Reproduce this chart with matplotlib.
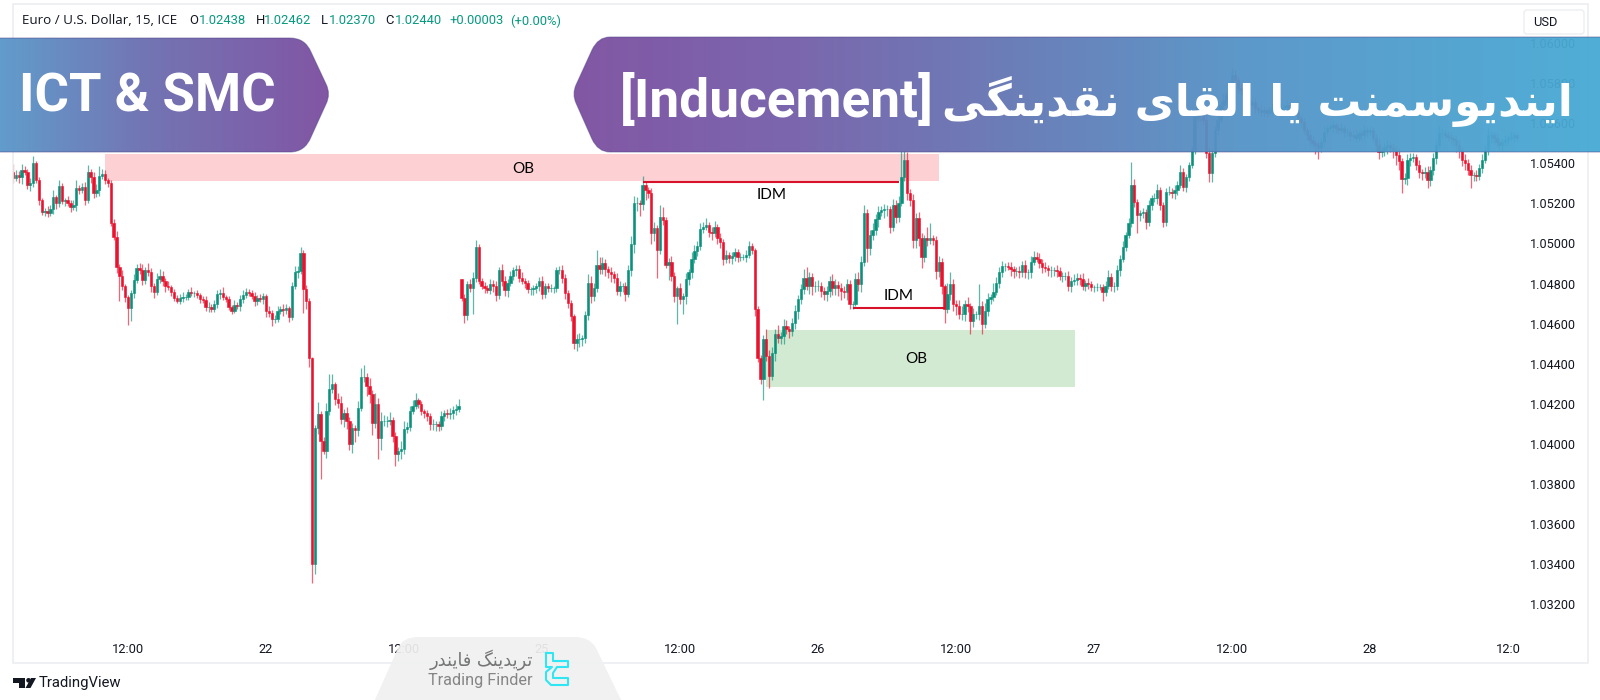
import numpy as np
import matplotlib
matplotlib.use('Agg')
import matplotlib.pyplot as plt
from matplotlib.colors import LinearSegmentedColormap
from matplotlib.patches import PathPatch, Polygon, Rectangle, FancyBboxPatch, Circle
from matplotlib.path import Path

# --- price data: points above 1.0 (5400 = 1.05400), 15 min candles ---
closes_week1 = [
    5325, 5340, 5330, 5365, 5355, 5290, 5300, 5400, 5315, 5215, 5155, 5160, 5150, 5170, 5230, 5200, 5285, 5210, 5215, 5200,
    5180, 5190, 5275, 5265, 5280, 5215, 5355, 5330, 5250, 5265, 5335, 5345, 5315, 5300, 5100, 5030, 4880, 4840, 4790, 4735,
    4680, 4755, 4820, 4875, 4865, 4820, 4865, 4855, 4790, 4760, 4825, 4840, 4815, 4790, 4785, 4760, 4730, 4715, 4730, 4735,
    4735, 4760, 4755, 4755, 4745, 4725, 4720, 4685, 4685, 4675, 4700, 4750, 4755, 4735, 4725, 4685, 4665, 4695, 4690, 4725,
    4745, 4760, 4755, 4740, 4715, 4730, 4725, 4740, 4665, 4655, 4625, 4625, 4665, 4675, 4670, 4680, 4635, 4790, 4855, 4860,
    4950, 4775, 4715, 4430, 3400, 4080, 4150, 4015, 3965, 4165, 4275, 4300, 4225, 4205, 4125, 4155, 4115, 4000, 4080, 4070,
    4180, 4335, 4335, 4290, 4250, 4105, 4200, 4030, 4115, 4115, 4115, 4120, 4040, 3950, 3965, 3975, 4075, 4085, 4165, 4190,
    4220, 4200, 4165, 4155, 4140, 4100, 4100, 4100, 4090, 4140, 4155, 4150, 4155, 4170, 4175, 4190,
]
closes_week2 = [
    4730, 4645, 4800, 4780, 4830, 4980, 4815, 4790, 4780, 4770, 4800, 4790, 4745, 4865, 4815, 4770, 4805, 4840, 4865, 4870,
    4830, 4815, 4805, 4775, 4775, 4780, 4790, 4815, 4750, 4790, 4780, 4780, 4780, 4865, 4865, 4830, 4755, 4705, 4640, 4505,
    4525, 4525, 4530, 4645, 4805, 4740, 4780, 4890, 4870, 4900, 4870, 4855, 4845, 4830, 4765, 4790, 4790, 4750, 4865, 4995,
    5200, 5200, 5195, 5290, 5265, 5250, 5050, 5075, 4965, 5130, 5115, 4890, 4905, 4840, 4740, 4780, 4725, 4740, 4825, 4855,
    4920, 4960, 4985, 5070, 5080, 5090, 5055, 5050, 5080, 5025, 5005, 4920, 4940, 4925, 4935, 4955, 4930, 4930, 4930, 4940,
    4985, 4965, 4675, 4430, 4325, 4525, 4440, 4340, 4455, 4550, 4530, 4540, 4590, 4575, 4565, 4605, 4665, 4725, 4775, 4830,
    4790, 4835, 4790, 4790, 4790, 4765, 4750, 4765, 4815, 4780, 4795, 4780, 4765, 4760, 4800, 4700, 4700, 4825, 4800, 4905,
    5150, 4975, 5040, 5065, 5120, 5155, 5165, 5170, 5170, 5080, 5190, 5130, 5200, 5330, 5415, 5250, 5215, 5015, 5125, 5025,
    4930, 5025, 5015, 5025, 5015, 4860, 4905, 4790, 4675, 4750, 4800, 4700, 4690, 4650, 4650, 4700, 4690, 4615, 4650, 4650,
    4690, 4600, 4665, 4725, 4735, 4760, 4805, 4855, 4885, 4885, 4880, 4870, 4860, 4860, 4855, 4890, 4855, 4855, 4905, 4930,
    4920, 4900, 4880, 4875, 4865, 4865, 4865, 4860, 4840, 4840, 4840, 4790, 4815, 4820, 4830, 4825, 4790, 4805, 4800, 4785,
    4785, 4785, 4785, 4760, 4790, 4835, 4790, 4790, 4865, 4920, 4980, 5040, 5100, 5290, 5205, 5140, 5150, 5155, 5105, 5190,
    5225, 5225, 5265, 5190, 5105, 5255, 5255, 5250, 5265, 5290, 5355, 5280, 5330, 5390, 5465, 5630, 5690, 5640, 5615, 5450,
    5350, 5450, 5565, 5615, 5690, 5715, 5740, 5790, 5840, 5815, 5775, 5765, 5740, 5715, 5690, 5705, 5675, 5665, 5655, 5665,
    5650, 5665, 5675, 5665, 5655, 5675, 5680, 5690, 5665, 5675, 5655, 5625, 5605, 5565, 5540, 5515, 5500, 5490, 5475, 5505,
    5555, 5575, 5580, 5590, 5575, 5565, 5575, 5555, 5555, 5535, 5540, 5525, 5550, 5540, 5565, 5555, 5565, 5525, 5490, 5455,
    5465, 5480, 5490, 5475, 5465, 5440, 5410, 5320, 5325, 5415, 5425, 5430, 5390, 5355, 5350, 5355, 5315, 5365, 5425, 5490,
    5550, 5550, 5540, 5530, 5525, 5515, 5490, 5465, 5415, 5400, 5365, 5340, 5340, 5335, 5375, 5415, 5465, 5540, 5540, 5525,
    5505, 5490, 5505, 5515, 5525, 5530, 5540, 5525,
]
first_open = 5355
week2_open = 4825

upper_wick = [
    40, 25, 20, 30, 20, 15, 25, 35, 10, 15, 10, 15, 25, 20, 35, 10, 30, 15, 10, 20,
    15, 25, 40, 15, 20, 25, 35, 15, 25, 30, 50, 25, 20, 10, 15, 20, 30, 15, 25, 10,
    10, 15, 25, 20, 25, 30, 15, 35, 20, 15, 25, 30, 20, 15, 25, 10, 15, 15, 20, 25,
    15, 15, 25, 10, 15, 10, 15, 20, 25, 15, 20, 20, 20, 30, 10, 15, 10, 25, 15, 20,
    25, 20, 15, 15, 20, 15, 20, 15, 10, 25, 15, 20, 25, 15, 25, 20, 10, 20, 30, 25,
    30, 15, 20, 15, 5, 15, 60, 15, 20, 40, 75, 50, 10, 30, 35, 20, 30, 20, 25, 15,
    35, 45, 60, 20, 40, 20, 55, 30, 45, 30, 25, 40, 15, 20, 20, 40, 40, 25, 25, 30,
    35, 10, 15, 10, 15, 15, 25, 15, 15, 25, 15, 20, 25, 20, 25, 35,
    0, 20, 15, 25, 25, 35, 15, 15, 20, 15, 25, 20, 25, 15, 30, 25, 20, 20, 15, 20,
    20, 25, 15, 15, 10, 15, 15, 20, 25, 15, 15, 20, 10, 15, 20, 25, 15, 15, 15, 10,
    25, 30, 15, 20, 40, 35, 25, 75, 40, 30, 20, 15, 25, 15, 20, 25, 15, 20, 25, 40,
    35, 30, 15, 45, 20, 15, 25, 30, 15, 60, 50, 15, 20, 30, 15, 10, 25, 15, 25, 15,
    35, 30, 25, 30, 25, 35, 15, 25, 30, 15, 25, 15, 25, 15, 20, 20, 15, 20, 15, 25,
    25, 15, 10, 15, 15, 20, 50, 30, 30, 25, 45, 20, 35, 30, 15, 25, 30, 20, 25, 40,
    50, 20, 15, 25, 30, 20, 20, 25, 25, 30, 30, 20, 25, 25, 25, 20, 15, 25, 30, 30,
    40, 20, 25, 35, 25, 30, 20, 25, 20, 15, 30, 25, 35, 130, 50, 40, 20, 30, 25, 30,
    25, 15, 55, 75, 15, 20, 30, 20, 10, 55, 55, 25, 20, 30, 40, 20, 35, 15, 30, 15,
    110, 25, 40, 30, 15, 45, 30, 25, 25, 15, 20, 25, 15, 20, 25, 20, 25, 15, 30, 30,
    25, 30, 20, 25, 15, 20, 15, 25, 20, 15, 15, 20, 20, 25, 20, 15, 25, 15, 25, 15,
    10, 20, 15, 15, 25, 30, 15, 20, 25, 20, 30, 15, 25, 115, 30, 15, 15, 20, 15, 25,
    15, 25, 30, 15, 15, 20, 30, 20, 25, 20, 35, 20, 15, 15, 20, 25, 30, 20, 25, 50,
    25, 25, 20, 30, 20, 35, 15, 25, 35, 25, 15, 20, 20, 15, 25, 15, 20, 15, 25, 20,
    15, 20, 25, 15, 20, 25, 15, 25, 15, 20, 15, 25, 15, 20, 15, 30, 20, 15, 20, 25,
    30, 15, 20, 25, 15, 20, 25, 15, 20, 15, 25, 30, 15, 20, 25, 15, 20, 15, 20, 30,
    15, 20, 25, 15, 25, 20, 35, 15, 25, 30, 25, 20, 15, 25, 15, 25, 30, 20, 25, 30,
    40, 25, 15, 20, 25, 15, 20, 25, 15, 30, 20, 25, 15, 25, 20, 30, 25, 35, 20, 15,
    25, 15, 20, 25, 15, 30, 15, 10,
]
lower_wick = [
    25, 15, 30, 35, 15, 20, 30, 20, 15, 25, 15, 20, 20, 15, 25, 30, 20, 15, 25, 15,
    25, 15, 30, 20, 15, 25, 15, 30, 25, 20, 30, 15, 20, 20, 15, 15, 30, 125, 20, 25,
    85, 65, 25, 15, 20, 25, 20, 15, 30, 30, 15, 20, 25, 30, 15, 20, 15, 10, 15, 20,
    15, 15, 15, 20, 15, 20, 15, 20, 25, 15, 15, 20, 25, 15, 15, 15, 15, 10, 15, 25,
    20, 15, 15, 15, 25, 20, 15, 25, 30, 20, 35, 20, 15, 15, 30, 20, 25, 15, 15, 25,
    15, 120, 40, 45, 95, 50, 30, 190, 15, 35, 20, 20, 30, 25, 25, 40, 40, 30, 45, 60,
    30, 15, 25, 50, 45, 60, 25, 105, 60, 25, 30, 20, 30, 60, 35, 40, 25, 20, 20, 15,
    15, 20, 20, 25, 25, 30, 30, 35, 25, 20, 25, 20, 25, 30, 25, 15,
    15, 40, 25, 20, 130, 20, 15, 15, 25, 15, 20, 30, 30, 20, 25, 30, 35, 15, 20, 25,
    20, 15, 25, 20, 30, 30, 25, 25, 25, 20, 20, 20, 25, 20, 20, 25, 30, 25, 25, 30,
    40, 40, 35, 25, 25, 35, 25, 20, 25, 25, 30, 25, 35, 25, 20, 25, 30, 35, 15, 25,
    45, 40, 60, 30, 50, 25, 55, 40, 135, 20, 25, 15, 70, 25, 30, 140, 25, 75, 40, 30,
    25, 20, 25, 20, 20, 15, 25, 35, 20, 30, 30, 30, 20, 25, 30, 25, 25, 20, 15, 25,
    15, 20, 35, 20, 25, 105, 25, 60, 20, 40, 25, 30, 40, 25, 35, 25, 30, 40, 25, 25,
    20, 40, 45, 30, 25, 30, 30, 35, 30, 35, 35, 40, 45, 30, 40, 25, 25, 10, 35, 40,
    20, 70, 35, 25, 25, 40, 20, 40, 35, 30, 20, 30, 25, 15, 20, 35, 30, 40, 40, 40,
    55, 25, 30, 20, 25, 35, 25, 40, 70, 20, 30, 35, 45, 25, 30, 35, 30, 65, 30, 25,
    30, 50, 20, 25, 25, 20, 15, 25, 20, 25, 15, 30, 30, 20, 25, 20, 25, 30, 25, 15,
    15, 25, 30, 20, 25, 30, 25, 25, 20, 30, 20, 25, 30, 20, 25, 30, 20, 25, 25, 20,
    25, 20, 15, 45, 20, 15, 25, 30, 20, 25, 15, 20, 15, 20, 25, 90, 30, 25, 35, 20,
    25, 20, 30, 25, 25, 20, 15, 25, 30, 25, 15, 20, 25, 20, 15, 20, 25, 30, 20, 25,
    45, 45, 20, 25, 15, 20, 25, 15, 20, 15, 25, 20, 15, 25, 20, 15, 25, 20, 20, 25,
    20, 15, 25, 20, 15, 25, 20, 15, 25, 15, 20, 25, 30, 20, 25, 30, 20, 45, 55, 20,
    25, 20, 15, 30, 25, 20, 15, 25, 20, 25, 15, 20, 15, 25, 20, 25, 15, 20, 30, 35,
    25, 30, 35, 20, 40, 50, 45, 70, 25, 35, 30, 20, 25, 30, 35, 25, 40, 30, 25, 30,
    20, 25, 15, 20, 25, 30, 35, 40, 30, 35, 25, 65, 30, 25, 20, 25, 15, 25, 40, 30,
    20, 25, 30, 20, 25, 15, 25, 15,
]

price_ticks = [1.032, 1.034, 1.036, 1.038, 1.040, 1.042, 1.044, 1.046, 1.048, 1.050,
               1.052, 1.054, 1.056, 1.058, 1.060]
time_ticks = [40, 88, 136, 184, 232, 280, 328, 376, 424, 472, 520]
time_labels = ['12:00', '22', '12:00', '25', '12:00', '26', '12:00', '27', '12:00', '28', '12:0']

# zones and lines: candle index from/to, price points
ob_sell = (32, 322, 5312, 5446)
ob_buy = (262, 369.5, 4284, 4568)
idm_top = (219, 308, 5307)
idm_low = (292, 324, 4678)

TITLE_FA = 'ایندیوسمنت یا القای نقدینگی'
TITLE_EN = '[Inducement]'
TAG = 'ICT & SMC'
BRAND_FA = 'تریدینگ فایندر'
BRAND_EN = 'Trading Finder'

GREEN = '#0a917c'
RED = '#e8132f'
TEAL_TEXT = '#089981'
INK = '#131722'

# matplotlib has no arabic shaping, so letters are mapped to their joined forms
FORMS = {
    'ا': (0xFE8D, 0xFE8E, None, None), 'د': (0xFEA9, 0xFEAA, None, None),
    'ر': (0xFEAD, 0xFEAE, None, None), 'و': (0xFEED, 0xFEEE, None, None),
    'ی': (0xFBFC, 0xFBFD, 0xFBFE, 0xFBFF), 'ن': (0xFEE5, 0xFEE6, 0xFEE7, 0xFEE8),
    'س': (0xFEB1, 0xFEB2, 0xFEB3, 0xFEB4), 'م': (0xFEE1, 0xFEE2, 0xFEE3, 0xFEE4),
    'ت': (0xFE95, 0xFE96, 0xFE97, 0xFE98), 'ق': (0xFED5, 0xFED6, 0xFED7, 0xFED8),
    'ل': (0xFEDD, 0xFEDE, 0xFEDF, 0xFEE0), 'گ': (0xFB92, 0xFB93, 0xFB94, 0xFB95),
    'ف': (0xFED1, 0xFED2, 0xFED3, 0xFED4),
}


def shape_fa(text):
    out = []
    for i, ch in enumerate(text):
        if ch not in FORMS:
            out.append(ch)
            continue
        prev = text[i - 1] if i > 0 else ' '
        nxt = text[i + 1] if i + 1 < len(text) else ' '
        joins_prev = prev in FORMS and FORMS[prev][2] is not None
        joins_next = nxt in FORMS and FORMS[ch][2] is not None
        idx = {(False, False): 0, (True, False): 1, (False, True): 2, (True, True): 3}[(joins_prev, joins_next)]
        out.append(chr(FORMS[ch][idx]))
    return ''.join(out)[::-1]


plt.rcParams['font.family'] = ['Roboto', 'DejaVu Sans']

W, H = 1600, 700
fig = plt.figure(figsize=(16, 7), dpi=100, facecolor='white')

# chart area in pixels
PX_L, PX_R, PX_T, PX_B = 12.5, 1522.0, 4.0, 637.0
ax = fig.add_axes([PX_L / W, 1 - PX_B / H, (PX_R - PX_L) / W, (PX_B - PX_T) / H])
STEP = 2.875
ax.set_xlim((PX_L - 13) / STEP, (PX_R - 13) / STEP)
SCALE = 0.20036
ax.set_ylim(5400 - (PX_B - 163.3) / SCALE, 5400 - (PX_T - 163.3) / SCALE)
for s in ax.spines.values():
    s.set_visible(False)

# order blocks
for (x0, x1, lo, hi), col in ((ob_sell, '#fdd0d3'), (ob_buy, '#d2ead2')):
    ax.add_patch(Rectangle((x0, lo), x1 - x0, hi - lo, facecolor=col, edgecolor='none', zorder=1))

closes = np.array(closes_week1 + closes_week2, dtype=float)
opens = np.r_[first_open, closes[:-1]]
opens[len(closes_week1)] = week2_open
if not (len(closes) == len(upper_wick) == len(lower_wick)):
    raise ValueError(f'{len(closes)} {len(upper_wick)} {len(lower_wick)}')
idx = np.arange(len(closes))
tops = np.maximum(opens, closes)
bots = np.minimum(opens, closes)
colors = [GREEN if c >= o else RED for o, c in zip(opens, closes)]

ax.vlines(idx, bots - np.array(lower_wick), tops + np.array(upper_wick), colors=colors, linewidth=0.9, alpha=0.65, zorder=2)
ax.bar(idx, tops - bots, bottom=bots, width=0.8, color=colors, edgecolor=colors, linewidth=0.4, zorder=3)

# inducement lines
for x0, x1, lvl in (idm_top, idm_low):
    ax.plot([x0, x1], [lvl, lvl], color='#d8112a', linewidth=1.5, solid_capstyle='butt', zorder=4)

ax.text((ob_sell[0] + ob_sell[1]) / 2 + 0.5, 5373, 'OB', ha='center', va='center', fontsize=11, family=['Lato'], color='black', zorder=5)
ax.text((ob_buy[0] + ob_buy[1]) / 2 - 1.5, 4425, 'OB', ha='center', va='center', fontsize=11, family=['Lato'], color='black', zorder=5)
ax.text(264, 5243, 'IDM', ha='center', va='center', fontsize=11, family=['Lato'], color='black', zorder=5)
ax.text(308, 4740, 'IDM', ha='center', va='center', fontsize=11, family=['Lato'], color='black', zorder=5)

ax.yaxis.tick_right()
ax.set_yticks([(p - 1) * 100000 for p in price_ticks])
ax.set_yticklabels([f'{p:.5f}' for p in price_ticks])
ax.set_xticks(time_ticks)
ax.set_xticklabels(time_labels)
ax.tick_params(axis='y', length=0, pad=6, labelsize=9.1, labelcolor=INK)
ax.tick_params(axis='x', length=0, pad=4, labelsize=9.3, labelcolor=INK)

# overlay in pixel coordinates for frame, header, banners and logos
ov = fig.add_axes([0, 0, 1, 1], facecolor='none', zorder=10)
ov.set_xlim(0, W)
ov.set_ylim(H, 0)
ov.axis('off')

ov.add_patch(Rectangle((12.5, 4), 1575.5, 659, fill=False, edgecolor='#eceef1', linewidth=1.2))
ov.add_patch(FancyBboxPatch((1524, 10), 60, 24, boxstyle='round,pad=0,rounding_size=3',
                            facecolor='white', edgecolor='#eceef1', linewidth=1))
ov.text(1533, 22.5, 'USD', ha='left', va='center', fontsize=9.3, color=INK)

# header line
ov.text(22, 21, 'Euro / U.S. Dollar, 15, ICE', ha='left', va='center', fontsize=9.6, family=['Open Sans'], color=INK)
for x, letter in ((189, 'O'), (256, 'H'), (321, 'L'), (385, 'C')):
    ov.text(x, 21, letter, ha='left', va='center', fontsize=9.4, color=INK)
for x, txt in ((199, '1.02438'), (264, '1.02462'), (329, '1.02370'), (395, '1.02440'),
               (449, '+0.00003'), (510, '(+0.00%)')):
    ov.text(x, 21, txt, ha='left', va='center', fontsize=9.4, color=TEAL_TEXT)


def banner(verts, codes, x0, x1, stops):
    path = Path(verts, codes)
    cmap = LinearSegmentedColormap.from_list('b', stops)
    grad = np.linspace(0, 1, 512).reshape(1, -1)
    im = ov.imshow(grad, extent=(x0, x1, 153, 36), cmap=cmap, aspect='auto', alpha=0.96, zorder=5)
    patch = PathPatch(path, facecolor='none', edgecolor='none', transform=ov.transData)
    ov.add_patch(patch)
    im.set_clip_path(patch)
    ov.add_patch(PathPatch(path, facecolor='none', edgecolor='#4b3f86', linewidth=0.8, alpha=0.45, zorder=6))


M, L, Q, C = Path.MOVETO, Path.LINETO, Path.CURVE3, Path.CLOSEPOLY
banner([(-2, 38), (290, 38), (305, 38), (311, 52), (326, 84), (331, 94), (326, 104), (311, 137), (305, 152),
        (290, 152), (-2, 152), (-2, 38)],
       [M, L, Q, Q, L, Q, Q, L, Q, Q, L, C], 0, 332,
       [(0, '#5a98ca'), (0.42, '#6c70b1'), (1, '#7c4d9f')])
banner([(1602, 37), (610, 37), (598, 37), (592, 50), (576, 85), (572, 94), (576, 103), (592, 139), (598, 152),
        (610, 152), (1602, 152), (1602, 37)],
       [M, L, Q, Q, L, Q, Q, L, Q, Q, L, C], 572, 1600,
       [(0, '#7c4fa0'), (0.22, '#7560aa'), (0.42, '#6577b4'), (0.66, '#5595c8'), (1, '#48aad4')])

ov.text(19, 111, TAG, ha='left', va='baseline', fontsize=38, fontweight='bold', color='white', zorder=7)
ov.text(620, 117, TITLE_EN, ha='left', va='baseline', fontsize=38.3, fontweight='bold', color='white', zorder=7)
ov.text(1573, 116, shape_fa(TITLE_FA), ha='right', va='baseline', fontsize=31.5, fontweight='bold',
        family=['DejaVu Sans'], color='white', zorder=7)

# watermark tab at the bottom
tab = Path([(374, 702), (398, 648), (403, 637), (418, 637), (575, 637), (590, 637), (596, 648), (622, 702), (374, 702)],
           [M, L, Q, Q, L, Q, Q, L, C])
ov.add_patch(PathPatch(tab, facecolor='#f0f0f0', edgecolor='none', alpha=0.93, zorder=5))
ov.text(533, 660, shape_fa(BRAND_FA), ha='right', va='center', fontsize=12.8, family=['DejaVu Sans'], color='#757575', zorder=7)
ov.text(533, 680, BRAND_EN, ha='right', va='center', fontsize=11.7, color='#858585', zorder=7)
logo_x = [546, 553, 553, 568, 568, 557, 553, 553, 568, 568, 551, 546, 546, 552, 546, 546]
logo_y = [653, 653, 661, 661, 667, 667, 673, 678, 678, 685, 685, 680, 672, 667, 667, 653]
ov.plot(logo_x, logo_y, color='#2fe6f2', linewidth=1.5, zorder=7)

# TradingView logo and name
ov.add_patch(Polygon([(13, 678), (25, 678), (25, 688), (19, 688), (19, 683), (13, 683)], facecolor=INK, edgecolor='none', zorder=7))
ov.add_patch(Circle((28.5, 680.3), 2.3, facecolor=INK, edgecolor='none', zorder=7))
ov.add_patch(Polygon([(31, 678), (36, 678), (30.5, 688), (25.5, 688)], facecolor=INK, edgecolor='none', zorder=7))
ov.text(39, 683, 'TradingView', ha='left', va='center', fontsize=10.7, color=INK, zorder=7)

fig.savefig('out.png', dpi=100, facecolor='white')
